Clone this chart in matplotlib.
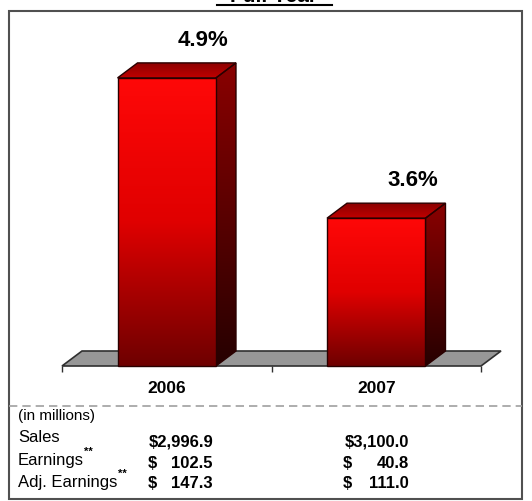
import numpy as np
import matplotlib
matplotlib.use('Agg')
import matplotlib.pyplot as plt
from matplotlib.patches import Polygon, Rectangle
from matplotlib.lines import Line2D
from matplotlib.colors import LinearSegmentedColormap

plt.rcParams['font.family'] = ['Liberation Sans', 'DejaVu Sans']

# data
years = ['2006', '2007']
margins = [4.9, 3.6]
row_labels = ['Sales', 'Earnings', 'Adj. Earnings']
sales = ['$2,996.9', '$3,100.0']
earnings = ['102.5', '40.8']
adj_earnings = ['147.3', '111.0']

W, H = 532, 501
fig = plt.figure(figsize=(W / 100, H / 100), dpi=100)

def px(x, y):
    return x / W, 1 - y / H

# plot area (floor front edge at bottom)
ax = fig.add_axes([62 / W, (H - 366) / H, (481 - 62) / W, (366 - 11) / H])
ymin, ymax = 2.23, 5.52
ax.set_xlim(-0.5, 1.5)
ax.set_ylim(ymin, ymax)
ax.patch.set_visible(False)
for s in ax.spines.values():
    s.set_visible(False)
ax.set_yticks([])

# depth offset of the 3d effect, 20 px right, 15 px up
dx = 20 * 2.0 / (481 - 62)
dy = 15 * (ymax - ymin) / (366 - 11)
bw = 0.47

front_cm = LinearSegmentedColormap.from_list('f', ['#ff0808', '#e00000', '#6e0000'])
side_cm = LinearSegmentedColormap.from_list('s', ['#8a0000', '#5a0000', '#260000'])
top_cm = LinearSegmentedColormap.from_list('t', ['#c00000', '#8a0000'])
grad = np.linspace(0, 1, 256).reshape(-1, 1)

# floor
floor = Polygon([(-0.5, ymin), (1.5, ymin), (1.5 + dx, ymin + dy), (-0.5 + dx, ymin + dy)],
                closed=True, facecolor='#979797', edgecolor='#303030', lw=1.2,
                zorder=1, clip_on=False)
ax.add_patch(floor)

def shaded(poly_pts, extent, cmap, z):
    p = Polygon(poly_pts, closed=True, facecolor='none', edgecolor='#2a0000',
                lw=1.0, zorder=z + 0.5, clip_on=False)
    ax.add_patch(p)
    im = ax.imshow(grad, cmap=cmap, extent=extent, aspect='auto',
                   interpolation='bilinear', zorder=z)
    im.set_clip_path(p)

bars = ax.bar(range(len(years)), np.array(margins) - ymin, bottom=ymin, width=bw,
              facecolor='none', edgecolor='none')
for i, (b, v) in enumerate(zip(bars, margins)):
    x0 = b.get_x()
    x1 = x0 + b.get_width()
    # side face
    shaded([(x1, ymin), (x1, v), (x1 + dx, v + dy), (x1 + dx, ymin + dy)],
           [x1, x1 + dx, ymin, v + dy], side_cm, 3)
    # top face
    shaded([(x0, v), (x1, v), (x1 + dx, v + dy), (x0 + dx, v + dy)],
           [x0, x1 + dx, v, v + dy], top_cm.reversed(), 3)
    # front face
    shaded([(x0, ymin), (x1, ymin), (x1, v), (x0, v)],
           [x0, x1, ymin, v], front_cm, 4)
    ax.annotate(f'{v}%', (i, v), xytext=(26, 27), textcoords='offset points',
                ha='center', va='center', fontsize=16, fontweight='bold')

ax.set_xlim(-0.5, 1.5)
ax.set_ylim(ymin, ymax)

# category labels and ticks
ax.set_xticks(range(len(years)))
ax.set_xticklabels(years, fontsize=12.5, fontweight='bold')
ax.tick_params(axis='x', which='major', length=0, pad=11)
ax.set_xticks([-0.5, 0.5, 1.5], minor=True)
ax.tick_params(axis='x', which='minor', length=4.5, width=1, color='#303030')

# frame and title
fig.add_artist(Rectangle(px(9, 499), 513 / W, 488 / H, transform=fig.transFigure,
                         fill=False, edgecolor='#505050', lw=1.5))
fig.text(*px(274, 2.5), 'Full Year', ha='center', va='baseline',
         fontsize=15, fontweight='bold')
fig.add_artist(Line2D([217 / W, 332 / W], [1 - 4.5 / H] * 2, color='black', lw=1.5,
                      transform=fig.transFigure))

# dashed separator
fig.add_artist(Line2D([9 / W, 522 / W], [1 - 406 / H] * 2, color='#a0a0a0', lw=1.2,
                      ls=(0, (5, 3)), transform=fig.transFigure))

# table below the chart
fig.text(*px(18, 416), '(in millions)', fontsize=11, va='center')
label_y = [437, 460, 482]
for lab, y in zip(row_labels, label_y):
    fig.text(*px(18, y), lab, fontsize=12, va='center')
fig.text(*px(84, 452), '**', fontsize=8, fontweight='bold', va='center')
fig.text(*px(118, 474), '**', fontsize=8, fontweight='bold', va='center')

col_left = [148, 343]
col_right = [213, 409]
for j in range(len(years)):
    fig.text(*px(col_right[j], 442), sales[j], fontsize=12, fontweight='bold',
             ha='right', va='center')
    for vals, y in [(earnings, 463), (adj_earnings, 484)]:
        fig.text(*px(col_left[j], y), '$', fontsize=12, fontweight='bold',
                 ha='left', va='center')
        fig.text(*px(col_right[j], y), vals[j], fontsize=12, fontweight='bold',
                 ha='right', va='center')

fig.savefig('out.png', dpi=100)
